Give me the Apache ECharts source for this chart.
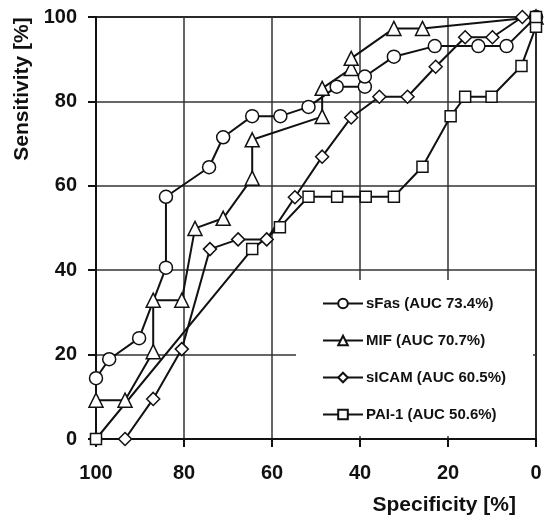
<!DOCTYPE html>
<html>
<head>
<meta charset="utf-8">
<script src="https://cdn.jsdelivr.net/npm/echarts@6/dist/echarts.min.js"></script>
<style>
  html, body { margin: 0; padding: 0; background: #fff; }
  #chart { width: 545px; height: 522px; }
</style>
</head>
<body>
<div id="chart"></div>
<script>
// 坐标轴刻度
var xTicks = [0, 20, 40, 60, 80, 100];
var yTicks = [0, 20, 40, 60, 80, 100];

// sFas
var sfasSpec = [100, 97.0, 90.2, 84.1, 84.1, 74.3, 71.1, 64.5, 58.1, 51.7, 45.3, 38.9, 38.9, 32.3, 23.0, 13.1, 6.7, 0];
var sfasSens = [14.4, 18.9, 23.9, 40.6, 57.4, 64.4, 71.5, 76.5, 76.5, 78.7, 83.5, 83.5, 85.9, 90.6, 93.1, 93.1, 93.1, 100];

// MIF
var mifSpec = [100, 93.4, 87.0, 87.0, 80.5, 77.5, 71.1, 64.5, 64.5, 48.6, 48.6, 42.0, 42.0, 32.3, 25.8, 0];
var mifSens = [9.2, 9.2, 20.7, 32.9, 32.9, 49.9, 52.3, 61.8, 70.9, 76.4, 83.1, 87.8, 90.2, 97.3, 97.3, 100];

// sICAM
var icamSpec = [100, 93.4, 87.0, 80.5, 74.1, 67.7, 61.2, 54.8, 48.6, 42.0, 35.6, 29.2, 22.8, 16.1, 9.9, 3.1, 0];
var icamSens = [0, 0, 9.5, 21.3, 45.0, 47.3, 47.3, 57.3, 66.9, 76.2, 81.1, 81.1, 88.2, 95.2, 95.2, 100, 100];

// PAI-1
var paiSpec = [100, 64.5, 58.2, 51.7, 45.2, 38.7, 32.3, 25.8, 19.4, 16.1, 10.1, 3.3, 0, 0];
var paiSens = [0, 45.0, 50.2, 57.4, 57.4, 57.4, 57.4, 64.5, 76.5, 81.1, 81.1, 88.4, 97.7, 100];

var seriesNames = ["sFas (AUC 73.4%)", "MIF (AUC 70.7%)", "sICAM (AUC 60.5%)", "PAI-1 (AUC 50.6%)"];

var sans = "'Liberation Sans', Arial, sans-serif";

function pairs(xs, ys) {
  return xs.map(function (x, i) { return [x, ys[i]]; });
}

function makeSeries(name, xs, ys, symbol, size) {
  return {
    name: name,
    type: "line",
    data: pairs(xs, ys),
    symbol: symbol,
    symbolSize: size,
    showAllSymbol: true,
    lineStyle: { color: "#111", width: 2 },
    itemStyle: { color: "#fff", borderColor: "#111", borderWidth: 1.5 },
    emphasis: { disabled: true },
    animation: false,
    z: 3
  };
}

var myChart = echarts.init(document.getElementById("chart"));

var option = {
  animation: false,
  grid: {
    left: 96, right: 9, top: 17, bottom: 83,
    show: true, borderColor: "#111", borderWidth: 2, backgroundColor: "transparent"
  },
  legend: {
    orient: "vertical",
    left: 317,
    top: 291,
    itemWidth: 40,
    itemHeight: 12,
    itemGap: 22,
    data: seriesNames,
    textStyle: { color: "#111", fontWeight: "bold", fontSize: 15, fontFamily: sans, padding: [0, 0, 0, -2] },
    selectedMode: false
  },
  xAxis: {
    type: "value",
    inverse: true,
    min: xTicks[0], max: xTicks[xTicks.length - 1], interval: 20,
    axisLine: { onZero: false, lineStyle: { color: "#111", width: 2 } },
    axisTick: { show: true, inside: false, length: 8, lineStyle: { color: "#111", width: 2 } },
    axisLabel: { color: "#111", fontWeight: "bold", fontSize: 20, fontFamily: sans, margin: 24 },
    splitLine: { show: true, lineStyle: { color: "#333", width: 1.5 } }
  },
  yAxis: {
    type: "value",
    min: yTicks[0], max: yTicks[yTicks.length - 1], interval: 20,
    axisLine: { show: true, onZero: false, lineStyle: { color: "#111", width: 2 } },
    axisTick: { show: true, inside: false, length: 8, lineStyle: { color: "#111", width: 2 } },
    axisLabel: { color: "#111", fontWeight: "bold", fontSize: 20, fontFamily: sans, margin: 19 },
    splitLine: { show: true, lineStyle: { color: "#333", width: 1.5 } }
  },
  graphic: [
    {
      // 图例白底，盖住网格线
      type: "rect", z: 1,
      shape: { x: 296, y: 280, width: 237, height: 156 },
      style: { fill: "#fff" }
    },
    {
      type: "text", z: 10,
      x: 22, y: 89, rotation: Math.PI / 2,
      style: {
        text: "Sensitivity [%]", fill: "#111", font: "bold 21px " + sans,
        align: "center", verticalAlign: "middle"
      }
    },
    {
      type: "text", z: 10,
      x: 516, y: 505,
      style: {
        text: "Specificity [%]", fill: "#111", font: "bold 21px " + sans,
        align: "right", verticalAlign: "middle"
      }
    }
  ],
  series: [
    makeSeries(seriesNames[0], sfasSpec, sfasSens, "circle", 13),
    makeSeries(seriesNames[1], mifSpec, mifSens, "triangle", 14),
    makeSeries(seriesNames[2], icamSpec, icamSens, "diamond", 13),
    makeSeries(seriesNames[3], paiSpec, paiSens, "rect", 11)
  ]
};

myChart.setOption(option);
</script>
</body>
</html>
